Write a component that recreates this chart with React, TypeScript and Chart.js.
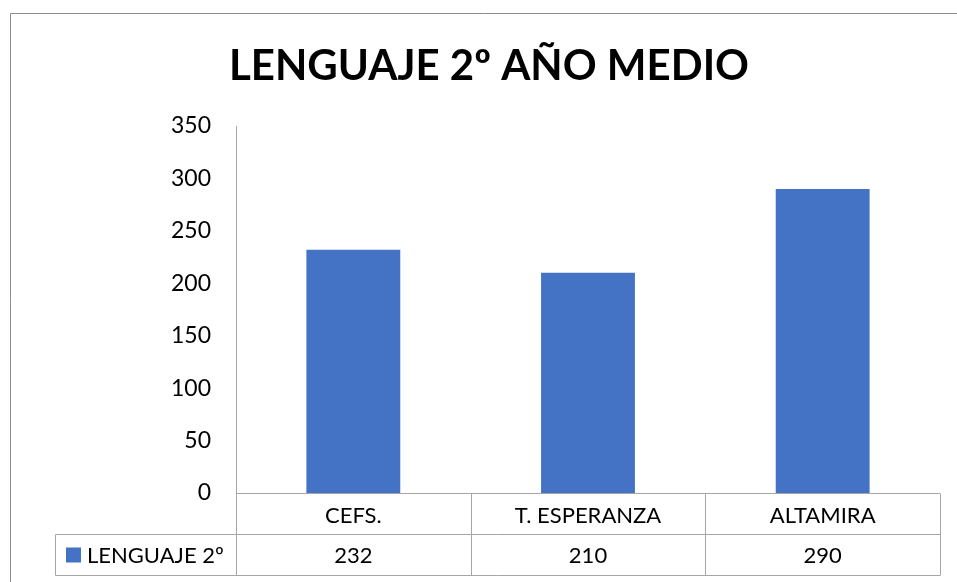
import React, { useEffect, useRef } from "react";
import { Chart, registerables } from "chart.js";

Chart.register(...registerables);

const TITLE = "LENGUAJE 2º AÑO MEDIO";
const SERIES_NAME = "LENGUAJE 2º";
const CATEGORIES = ["CEFS.", "T. ESPERANZA", "ALTAMIRA"];
const VALUES = [232, 210, 290];
const Y_MIN = 0;
const Y_MAX = 350;
const Y_STEP = 50;

const FONT = "Lato, 'Open Sans', sans-serif";
const BAR_COLOR = "#4472C4";
const LINE_COLOR = "#A6A6A6";

const tablePlugin = {
  id: "tablePlugin",
  afterDraw(chart: any) {
    const ctx = chart.ctx as CanvasRenderingContext2D;
    const area = chart.chartArea;
    const xs = chart.scales.x;
    const n = CATEGORIES.length;
    const step = (area.right - area.left) / n;
    const rowH = 41;
    const top = Math.round(area.bottom) + 0.5;
    const mid = top + rowH;
    const bot = mid + rowH;
    const legendLeft = 55.5;
    ctx.save();
    // outer frame
    ctx.strokeStyle = "#8C8C8C";
    ctx.lineWidth = 1;
    ctx.beginPath();
    ctx.moveTo(10.5, chart.height + 2);
    ctx.lineTo(10.5, 13.5);
    ctx.lineTo(chart.width + 2, 13.5);
    ctx.stroke();

    // title
    ctx.fillStyle = "#000";
    ctx.font = `bold 42px ${FONT}`;
    ctx.textAlign = "center";
    ctx.textBaseline = "alphabetic";
    ctx.fillText(TITLE, 489, 80);

    // table lines
    ctx.strokeStyle = LINE_COLOR;
    ctx.beginPath();
    ctx.moveTo(area.left, top);
    ctx.lineTo(area.right, top);
    ctx.moveTo(legendLeft, mid);
    ctx.lineTo(area.right, mid);
    ctx.moveTo(legendLeft, bot);
    ctx.lineTo(area.right, bot);
    ctx.moveTo(legendLeft, mid);
    ctx.lineTo(legendLeft, bot);
    for (let i = 0; i <= n; i++) {
      const x = Math.round(area.left + i * step) + 0.5;
      ctx.moveTo(x, top);
      ctx.lineTo(x, bot);
    }
    ctx.stroke();

    // labels and values
    ctx.font = `22px ${FONT}`;
    ctx.fillStyle = "#000";
    ctx.textAlign = "center";
    CATEGORIES.forEach((c, i) => {
      const x = xs.getPixelForValue(i);
      ctx.fillText(c, x, top + 29.5);
      ctx.fillText(String(VALUES[i]), x, mid + 28.5);
    });

    // legend key
    ctx.fillStyle = BAR_COLOR;
    ctx.fillRect(66, mid + 13, 15, 15);
    ctx.fillStyle = "#000";
    ctx.textAlign = "left";
    ctx.fillText(SERIES_NAME, 87, mid + 28.5);
    ctx.restore();
  },
};

export default function App() {
  const ref = useRef<HTMLCanvasElement | null>(null);
  useEffect(() => {
    if (!ref.current) return;
    const chart = new Chart(ref.current, {
      type: "bar",
      data: {
        labels: CATEGORIES,
        datasets: [
          {
            label: SERIES_NAME,
            data: VALUES,
            backgroundColor: BAR_COLOR,
            barPercentage: 0.4,
            categoryPercentage: 1,
          },
        ],
      },
      options: {
        responsive: false,
        animation: false,
        devicePixelRatio: 1,
        layout: { padding: { left: 0, right: 17, top: 126, bottom: 89 } },
        plugins: {
          legend: { display: false },
          title: { display: false },
          tooltip: { enabled: false },
        },
        scales: {
          x: { display: false },
          y: {
            min: Y_MIN,
            max: Y_MAX,
            afterFit: (s: any) => {
              s.width = 236;
            },
            ticks: {
              stepSize: Y_STEP,
              padding: 25,
              color: "#000",
              font: { family: FONT, size: 23 },
            },
            grid: { display: false, drawTicks: false },
            border: { display: true, color: LINE_COLOR },
          },
        },
      },
      plugins: [tablePlugin],
    });
    return () => chart.destroy();
  }, []);
  return (
    <div style={{ position: "absolute", left: 0, top: 0, width: 957, height: 582, background: "#fff" }}>
      <canvas ref={ref} width={957} height={582} style={{ display: "block" }} />
    </div>
  );
}
